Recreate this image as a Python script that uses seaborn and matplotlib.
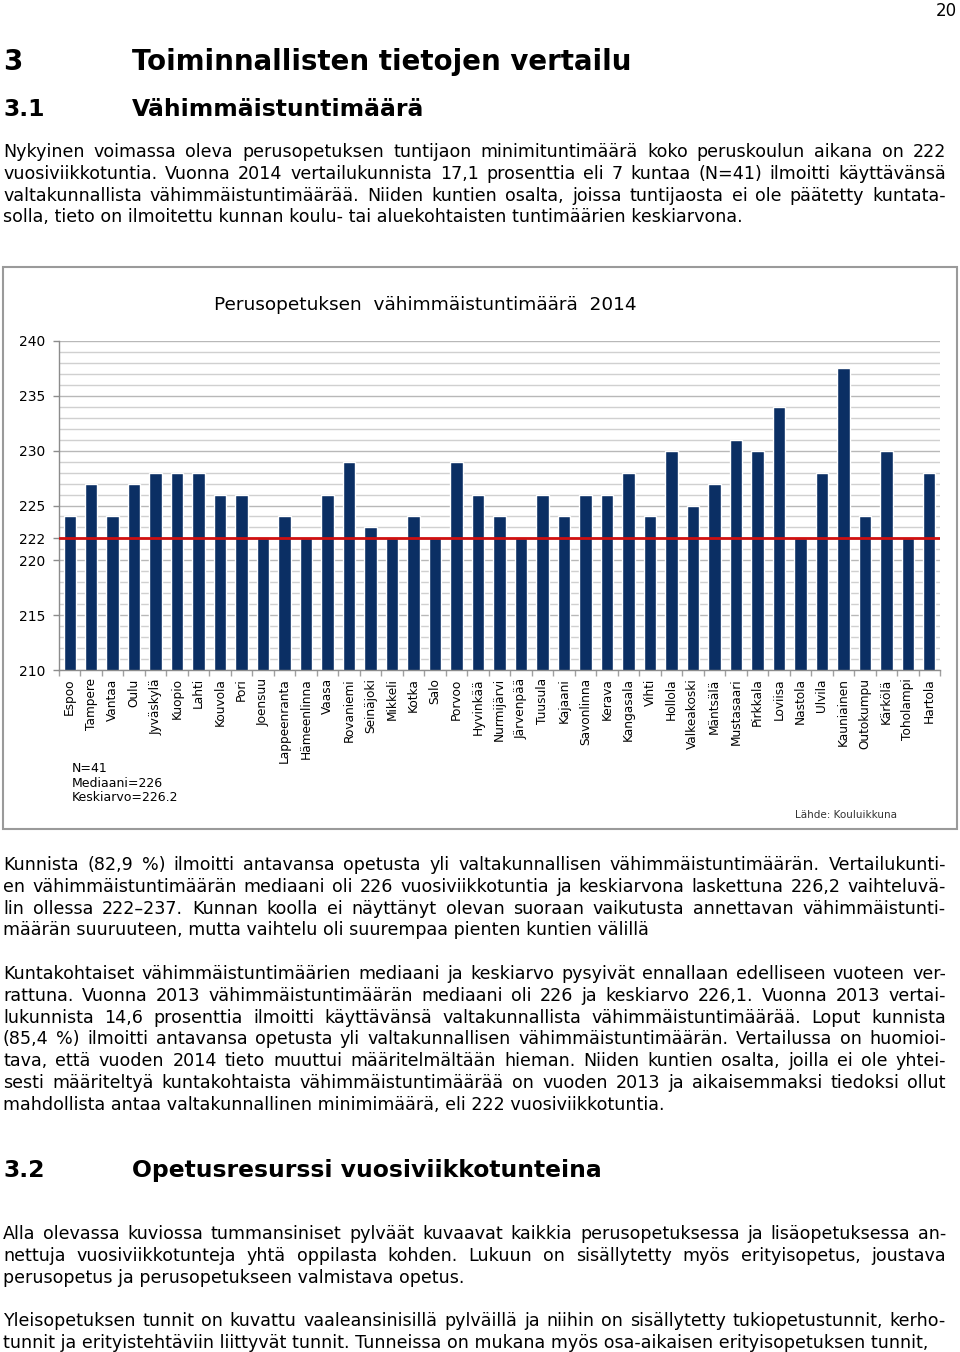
import matplotlib
matplotlib.use("Agg")
import matplotlib.pyplot as plt
import seaborn as sns
from matplotlib.patches import Rectangle

# --- chart data -------------------------------------------------------------
kunnat = ["Espoo", "Tampere", "Vantaa", "Oulu", "Jyväskylä", "Kuopio", "Lahti",
          "Kouvola", "Pori", "Joensuu", "Lappeenranta", "Hämeenlinna", "Vaasa",
          "Rovaniemi", "Seinäjoki", "Mikkeli", "Kotka", "Salo", "Porvoo",
          "Hyvinkää", "Nurmijärvi", "Järvenpää", "Tuusula", "Kajaani",
          "Savonlinna", "Kerava", "Kangasala", "Vihti", "Hollola", "Valkeakoski",
          "Mäntsälä", "Mustasaari", "Pirkkala", "Loviisa", "Nastola", "Ulvila",
          "Kauniainen", "Outokumpu", "Kärkölä", "Toholampi", "Hartola"]
tunnit = [224, 227, 224, 227, 228, 228, 228, 226, 226, 222, 224, 222, 226,
          229, 223, 222, 224, 222, 229, 226, 224, 222, 226, 224, 226, 226,
          228, 224, 230, 225, 227, 231, 230, 234, 222, 228, 237.5, 224, 230,
          222, 228]
y_ticks = [210, 215, 220, 222, 225, 230, 235, 240]
minimi = 222
chart_title = "Perusopetuksen  vähimmäistuntimäärä  2014"
stats_text = "N=41\nMediaani=226\nKeskiarvo=226.2"
source_text = "Lähde: Kouluikkuna"

# --- page text --------------------------------------------------------------
page_no = "20"
heading1 = ("3", "Toiminnallisten tietojen vertailu")
heading2 = ("3.1", "Vähimmäistuntimäärä")
heading3 = ("3.2", "Opetusresurssi vuosiviikkotunteina")
para1 = [
    "Nykyinen voimassa oleva perusopetuksen tuntijaon minimituntimäärä koko peruskoulun aikana on 222",
    "vuosiviikkotuntia. Vuonna 2014 vertailukunnista 17,1 prosenttia eli 7 kuntaa (N=41) ilmoitti käyttävänsä",
    "valtakunnallista vähimmäistuntimäärää. Niiden kuntien osalta, joissa tuntijaosta ei ole päätetty kuntata-",
    "solla, tieto on ilmoitettu kunnan koulu- tai aluekohtaisten tuntimäärien keskiarvona.",
]
para2 = [
    "Kunnista (82,9 %) ilmoitti antavansa opetusta yli valtakunnallisen vähimmäistuntimäärän. Vertailukunti-",
    "en vähimmäistuntimäärän mediaani oli 226 vuosiviikkotuntia ja keskiarvona laskettuna 226,2 vaihteluvä-",
    "lin ollessa 222–237. Kunnan koolla ei näyttänyt olevan suoraan vaikutusta annettavan vähimmäistunti-",
    "määrän suuruuteen, mutta vaihtelu oli suurempaa pienten kuntien välillä",
]
para3 = [
    "Kuntakohtaiset vähimmäistuntimäärien mediaani ja keskiarvo pysyivät ennallaan edelliseen vuoteen ver-",
    "rattuna. Vuonna 2013 vähimmäistuntimäärän mediaani oli 226 ja keskiarvo 226,1. Vuonna 2013 vertai-",
    "lukunnista 14,6 prosenttia ilmoitti käyttävänsä valtakunnallista vähimmäistuntimäärää. Loput kunnista",
    "(85,4 %) ilmoitti antavansa opetusta yli valtakunnallisen vähimmäistuntimäärän. Vertailussa on huomioi-",
    "tava, että vuoden 2014 tieto muuttui määritelmältään hieman. Niiden kuntien osalta, joilla ei ole yhtei-",
    "sesti määriteltyä kuntakohtaista vähimmäistuntimäärää on vuoden 2013 ja aikaisemmaksi tiedoksi ollut",
    "mahdollista antaa valtakunnallinen minimimäärä, eli 222 vuosiviikkotuntia.",
]
para4 = [
    "Alla olevassa kuviossa tummansiniset pylväät kuvaavat kaikkia perusopetuksessa ja lisäopetuksessa an-",
    "nettuja vuosiviikkotunteja yhtä oppilasta kohden. Lukuun on sisällytetty myös erityisopetus, joustava",
    "perusopetus ja perusopetukseen valmistava opetus.",
]
para5 = [
    "Yleisopetuksen tunnit on kuvattu vaaleansinisillä pylväillä ja niihin on sisällytetty tukiopetustunnit, kerho-",
    "tunnit ja erityistehtäviin liittyvät tunnit. Tunneissa on mukana myös osa-aikaisen erityisopetuksen tunnit,",
]

W, H = 960, 1352
BODY_FONT = ["DejaVu Sans"]

sns.set_style("white")
plt.rcParams["font.family"] = ["DejaVu Sans"]
plt.rcParams["text.color"] = "black"
plt.rcParams["xtick.color"] = "black"
plt.rcParams["ytick.color"] = "black"

fig = plt.figure(figsize=(W / 100, H / 100), dpi=100)
renderer = fig.canvas.get_renderer()


def fx(px):
    return px / W


def fy(py):
    return 1 - py / H


def text_width(s, size, **kw):
    t = fig.text(0, 0, s, fontsize=size, family=BODY_FONT, **kw)
    w = t.get_window_extent(renderer).width
    t.remove()
    return w


def put_line(x, y, line, size, right=None, **kw):
    # y is the baseline in page pixels; right = justify target edge
    if right is None:
        fig.text(fx(x), fy(y), line, fontsize=size, va="baseline", ha="left",
                 family=BODY_FONT, **kw)
        return
    words = line.split(" ")
    widths = [text_width(w, size, **kw) for w in words]
    gap = (right - x - sum(widths)) / max(len(words) - 1, 1)
    cx = x
    for w, wd in zip(words, widths):
        fig.text(fx(cx), fy(y), w, fontsize=size, va="baseline", ha="left",
                 family=BODY_FONT, **kw)
        cx += wd + gap


def put_para(lines, y0, step=21.8, size=12.6, right=946):
    for i, line in enumerate(lines):
        last = i == len(lines) - 1
        put_line(3, y0 + i * step, line, size, None if last else right)


def put_heading(head, base, size):
    num, txt = head
    fig.text(fx(3), fy(base), num, fontsize=size, fontweight="bold",
             va="baseline", family=BODY_FONT)
    fig.text(fx(132), fy(base), txt, fontsize=size, fontweight="bold",
             va="baseline", family=BODY_FONT)


# --- page text ---------------------------------------------------------------
fig.text(fx(957), fy(16), page_no, fontsize=12, ha="right", va="baseline",
         family=BODY_FONT)

# heading sizes fitted to the widths they take on the page
h1_size = 20 * 498 / text_width(heading1[1], 20, fontweight="bold")
h2_size = 20 * 470 / text_width(heading3[1], 20, fontweight="bold")
put_heading(heading1, 70, h1_size)
put_heading(heading2, 116, h2_size)
put_heading(heading3, 1177, h2_size)

put_para(para1, 157)
put_para(para2, 870)
put_para(para3, 979)
put_para(para4, 1239)
put_para(para5, 1326)

# --- chart -------------------------------------------------------------------
fig.add_artist(Rectangle((fx(3), fy(829)), fx(954), 562 / H,
                         transform=fig.transFigure, fill=False,
                         edgecolor="#9a9a9a", lw=1.5))

ax = fig.add_axes([fx(59), fy(670), fx(881), 329 / H])
sns.barplot(x=kunnat, y=tunnit, color="#0b2f64", saturation=1, width=0.58,
            ax=ax)
ax.set_ylim(210, 240)
ax.set_xlim(-0.5, len(kunnat) - 0.5)
ax.set_yticks(y_ticks)
ax.set_yticks(range(210, 241), minor=True)
ax.yaxis.grid(True, which="minor", color="#d0d0d0", lw=1)
ax.yaxis.grid(True, which="major", color="#b8b8b8", lw=1)
ax.set_axisbelow(True)
ax.axhline(minimi, color="#d01010", lw=2, zorder=5)

for side in ("top", "right"):
    ax.spines[side].set_visible(False)
for side in ("left", "bottom"):
    ax.spines[side].set_color("#8c8c8c")
    ax.spines[side].set_linewidth(1)

ax.tick_params(axis="y", which="major", left=True, length=4, width=1,
               color="#8c8c8c", labelcolor="black", labelsize=10, pad=6)
ax.tick_params(axis="y", which="minor", left=False)
ax.set_xticks(range(len(kunnat)))
ax.set_xticklabels(kunnat, rotation=90, fontsize=8.7)
ax.set_xticks([i - 0.5 for i in range(len(kunnat) + 1)], minor=True)
ax.tick_params(axis="x", which="major", length=0, pad=6, labelcolor="black")
ax.tick_params(axis="x", which="minor", bottom=True, length=4, width=1,
               color="#a0a0a0")
ax.set_xlabel("")
ax.set_ylabel("")

fig.text(fx(425), fy(305), chart_title, fontsize=13.3, ha="center", va="center")
fig.text(fx(72), fy(762), stats_text, fontsize=9, ha="left", va="top",
         linespacing=1.15)
fig.text(fx(795), fy(815), source_text, fontsize=7.5, ha="left", va="center",
         color="#333333")

fig.savefig("out.png", dpi=100)
